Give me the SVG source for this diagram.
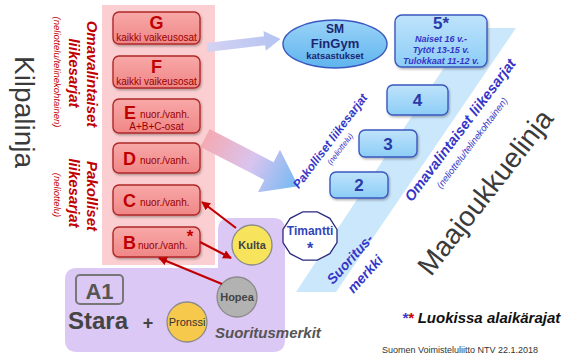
<svg xmlns="http://www.w3.org/2000/svg" width="574" height="356" viewBox="0 0 574 356">
<defs>
<style>
text{font-family:"Liberation Sans",Arial,sans-serif}
.rbox{fill:url(#gRed);stroke:#b02828;stroke-width:1.4}
.bbox{fill:url(#gBlue);stroke:#3a58c0;stroke-width:1.4}
.L{font-size:18px;font-weight:bold;fill:#c00000}
.sm{font-size:10px;fill:#9a0000}
.rt{font-size:15px;font-weight:bold;font-style:italic;fill:#c00000}
.rs{font-size:9.5px;font-style:italic;fill:#c00000}
.bt{font-weight:bold;font-style:italic;fill:#3535c8}
.bs{font-style:italic;fill:#3535c8}
.num{font-size:17px;font-weight:bold;fill:#2a3aa8;text-anchor:middle}
.big{font-size:28px;fill:#3a3a3a;text-anchor:middle}
.ra{stroke:#c00000;stroke-width:2.2;fill:none;marker-end:url(#ah)}
.coin{stroke:#8a8a8a;stroke-width:1.3}
.ct{font-size:11px;font-weight:bold;fill:#444;text-anchor:middle}
</style>
<linearGradient id="gRed" x1="0" y1="0" x2="0" y2="1">
<stop offset="0" stop-color="#f8a8a8"/><stop offset="1" stop-color="#f08686"/>
</linearGradient>
<linearGradient id="gBlue" x1="0" y1="0" x2="0" y2="1">
<stop offset="0" stop-color="#bfe3fb"/><stop offset="1" stop-color="#8ccdf6"/>
</linearGradient>
<linearGradient id="gEll" x1="0" y1="0" x2="0" y2="1">
<stop offset="0" stop-color="#9ad3f8"/><stop offset="1" stop-color="#5fb4ee"/>
</linearGradient>
<linearGradient id="gArr" x1="0" y1="0" x2="1" y2="0">
<stop offset="0" stop-color="#f4aab2"/><stop offset="0.5" stop-color="#d9c4ef"/><stop offset="1" stop-color="#72b9f3"/>
</linearGradient>
<linearGradient id="gArr2" x1="0" y1="0" x2="1" y2="0">
<stop offset="0" stop-color="#d4d2f2"/><stop offset="1" stop-color="#b4c4f2"/>
</linearGradient>
<filter id="sh" x="-10%" y="-10%" width="130%" height="140%">
<feDropShadow dx="1" dy="1.5" stdDeviation="1" flood-color="#000" flood-opacity="0.3"/>
</filter>
<marker id="ah" viewBox="0 0 10 10" refX="9" refY="5" markerWidth="4" markerHeight="4" orient="auto" markerUnits="strokeWidth">
<path d="M0,0 L10,5 L0,10 Z" fill="#c00000"/>
</marker>
</defs>
<rect width="574" height="356" fill="#fff"/>

<!-- background panels -->
<g id="bands">
<rect x="102" y="5" width="113" height="260" fill="#fbcfd1"/>
<path d="M77 268 H218 V230 Q218 218 230 218 H273 Q285 218 285 230 V340 Q285 352 273 352 H77 Q65 352 65 340 V280 Q65 268 77 268 Z" fill="#dcc8f4"/>
<polygon points="470,28 516,28 336,292 296,292" fill="#cbe7fb"/>
</g>

<!-- left labels -->
<g id="left-labels">
<g transform="translate(25,112) rotate(90)"><text class="big" dy="0.35em" fill="#444">Kilpalinja</text></g>
<g transform="translate(92,74) rotate(90)"><text class="rt" text-anchor="middle" dy="0.35em">Omavalintaiset</text></g>
<g transform="translate(74,73) rotate(90)"><text class="rt" text-anchor="middle" dy="0.35em">liikesarjat</text></g>
<g transform="translate(57,72) rotate(90)"><text class="rs" text-anchor="middle" dy="0.35em">(neliottelu/telinekohtainen)</text></g>
<g transform="translate(92,196) rotate(90)"><text class="rt" text-anchor="middle" dy="0.35em">Pakolliset</text></g>
<g transform="translate(74,193) rotate(90)"><text class="rt" text-anchor="middle" dy="0.35em">liikesarjat</text></g>
<g transform="translate(57,195) rotate(90)"><text class="rs" text-anchor="middle" dy="0.35em">(neliottelu)</text></g>
</g>

<!-- big arrows -->
<g id="big-arrows">
<g transform="translate(207,47.5) rotate(-6.6)"><polygon points="0,-4.5 58,-4.5 58,-10 74,0 58,10 58,4.5 0,4.5" fill="url(#gArr2)"/></g>
<g transform="translate(205,138) rotate(27.3)"><polygon points="0,-10 72,-10 72,-24 105,0 72,24 72,10 0,10" fill="url(#gArr)"/></g>
</g>

<!-- red boxes -->
<g id="G"><rect class="rbox" x="113" y="12" width="87" height="32" rx="6" filter="url(#sh)"/>
<text class="L" x="156.5" y="29" text-anchor="middle">G</text>
<text class="sm" x="156.5" y="40.5" text-anchor="middle">kaikki vaikeusosat</text></g>
<g id="F"><rect class="rbox" x="113" y="56" width="87" height="32" rx="6" filter="url(#sh)"/>
<text class="L" x="156.5" y="73" text-anchor="middle">F</text>
<text class="sm" x="156.5" y="84.5" text-anchor="middle">kaikki vaikeusosat</text></g>
<g id="E"><rect class="rbox" x="113" y="99" width="87" height="34" rx="6" filter="url(#sh)"/>
<text class="L" x="124" y="119">E</text>
<text class="sm" x="140" y="118">nuor./vanh.</text>
<text class="sm" x="156.5" y="129.5" text-anchor="middle">A+B+C-osat</text></g>
<g id="D"><rect class="rbox" x="113" y="143" width="87" height="30" rx="6" filter="url(#sh)"/>
<text class="L" x="123" y="165">D</text>
<text class="sm" x="140" y="164">nuor./vanh.</text></g>
<g id="C"><rect class="rbox" x="113" y="185" width="87" height="30" rx="6" filter="url(#sh)"/>
<text class="L" x="123" y="207">C</text>
<text class="sm" x="140" y="206">nuor./vanh.</text></g>
<g id="B"><rect class="rbox" x="113" y="227" width="87" height="30" rx="6" filter="url(#sh)"/>
<text class="L" x="123" y="249">B</text>
<text class="sm" x="138" y="249">nuor./vanh.</text>
<text x="190" y="242" font-size="17" font-weight="bold" fill="#c00000" text-anchor="middle">*</text></g>

<!-- blue side -->
<g id="SM"><ellipse cx="335" cy="44" rx="52" ry="24" fill="url(#gEll)" stroke="#3a58c0" stroke-width="1.4"/>
<text x="335" y="33" font-size="12" font-weight="bold" fill="#1c2670" text-anchor="middle">SM</text>
<text x="335" y="48" font-size="13" font-weight="bold" fill="#1c2670" text-anchor="middle">FinGym</text>
<text x="335" y="59" font-size="9.5" font-weight="bold" fill="#1c2670" text-anchor="middle">katsastukset</text></g>
<g id="L5"><rect class="bbox" x="395" y="15" width="92" height="52" rx="7" filter="url(#sh)"/>
<text class="num" x="441" y="29">5*</text>
<text class="bs" x="441" y="42" font-size="9" font-weight="bold" text-anchor="middle">Naiset 16 v.-</text>
<text class="bs" x="441" y="53" font-size="9" font-weight="bold" text-anchor="middle">Tytöt 13-15 v.</text>
<text class="bs" x="441" y="64" font-size="9" font-weight="bold" text-anchor="middle">Tulokkaat 11-12 v.</text></g>
<g id="L4"><rect class="bbox" x="387" y="85" width="61" height="30" rx="6" filter="url(#sh)"/>
<text class="num" x="417.5" y="106">4</text></g>
<g id="L3"><rect class="bbox" x="359" y="130" width="58" height="27" rx="6" filter="url(#sh)"/>
<text class="num" x="388" y="149.5">3</text></g>
<g id="L2"><rect class="bbox" x="330" y="172" width="58" height="26" rx="6" filter="url(#sh)"/>
<text class="num" x="359" y="191">2</text></g>

<g id="Timantti"><polygon points="337,229.5 329.8,218.3 317.3,211.9 302.7,211.9 290.2,218.3 283,229.5 283,242.5 290.2,253.7 302.7,260.1 317.3,260.1 329.8,253.7 337,242.5" fill="#fff" stroke="#2a2a80" stroke-width="1.3"/>
<text x="310" y="235" font-size="12" font-weight="bold" fill="#3344bb" text-anchor="middle">Timantti</text>
<text x="310" y="254" font-size="16" font-weight="bold" fill="#3344bb" text-anchor="middle">*</text></g>

<!-- diagonal labels -->
<g id="diag-labels">
<g transform="translate(330,141) rotate(-53)"><text class="bt" font-size="12" text-anchor="middle" dy="0.35em">Pakolliset liikesarjat</text></g>
<g transform="translate(340,149) rotate(-53)"><text class="bs" font-size="8" text-anchor="middle" dy="0.35em">(neliottelu)</text></g>
<g transform="translate(460,130) rotate(-53)"><text class="bt" font-size="14.5" text-anchor="middle" dy="0.35em">Omavalintaiset liikesarjat</text></g>
<g transform="translate(472,143) rotate(-53)"><text class="bs" font-size="9.5" text-anchor="middle" dy="0.35em">(neliottelu/telinekohtainen)</text></g>
<g transform="translate(350,259) rotate(-48)"><text class="bt" font-size="14" text-anchor="middle" dy="0.35em">Suoritus-</text></g>
<g transform="translate(365,274) rotate(-48)"><text class="bt" font-size="14" text-anchor="middle" dy="0.35em">merkki</text></g>
<g transform="translate(485,192) rotate(-52)"><text class="big" dy="0.35em" fill="#333">Maajoukkuelinja</text></g>
</g>

<!-- bottom-left -->
<g id="A1"><rect x="76" y="275" width="47" height="29" rx="4" fill="none" stroke="#777" stroke-width="2"/>
<text x="99.5" y="299" font-size="22" font-weight="bold" fill="#555" text-anchor="middle">A1</text></g>
<g id="Stara"><text x="68" y="329" font-size="24" font-weight="bold" fill="#444">Stara</text>
<text x="148" y="329" font-size="18" font-weight="bold" fill="#444" text-anchor="middle">+</text></g>
<g id="Kulta"><circle class="coin" cx="252" cy="245" r="20" fill="#f7e45c"/><text class="ct" x="252" y="249">Kulta</text></g>
<g id="Hopea"><circle class="coin" cx="237" cy="297" r="20" fill="#b2b2b2"/><text class="ct" x="237" y="301">Hopea</text></g>
<g id="Pronssi"><circle class="coin" cx="187" cy="322" r="20" fill="#f6c84c"/><text x="187" y="326" font-size="11" fill="#333" text-anchor="middle">Pronssi</text></g>
<g id="Suoritusmerkit"><text x="215" y="338" font-size="15" font-weight="bold" font-style="italic" fill="#555">Suoritusmerkit</text></g>

<!-- connectors -->
<g id="connectors">
<line class="ra" x1="236" y1="228" x2="202" y2="202"/>
<line class="ra" x1="200" y1="242" x2="231" y2="258"/>
<line class="ra" x1="222" y1="284" x2="159" y2="258"/>
</g>

<!-- notes -->
<g id="notes">
<text x="402" y="323" font-size="15" font-weight="bold" font-style="italic"><tspan fill="#3a3adc">*</tspan><tspan fill="#d00000">*</tspan><tspan fill="#111" dx="4">Luokissa alaikärajat</tspan></text>
<text x="382" y="353" font-size="9" fill="#333">Suomen Voimisteluliitto  NTV 22.1.2018</text>
</g>
</svg>
